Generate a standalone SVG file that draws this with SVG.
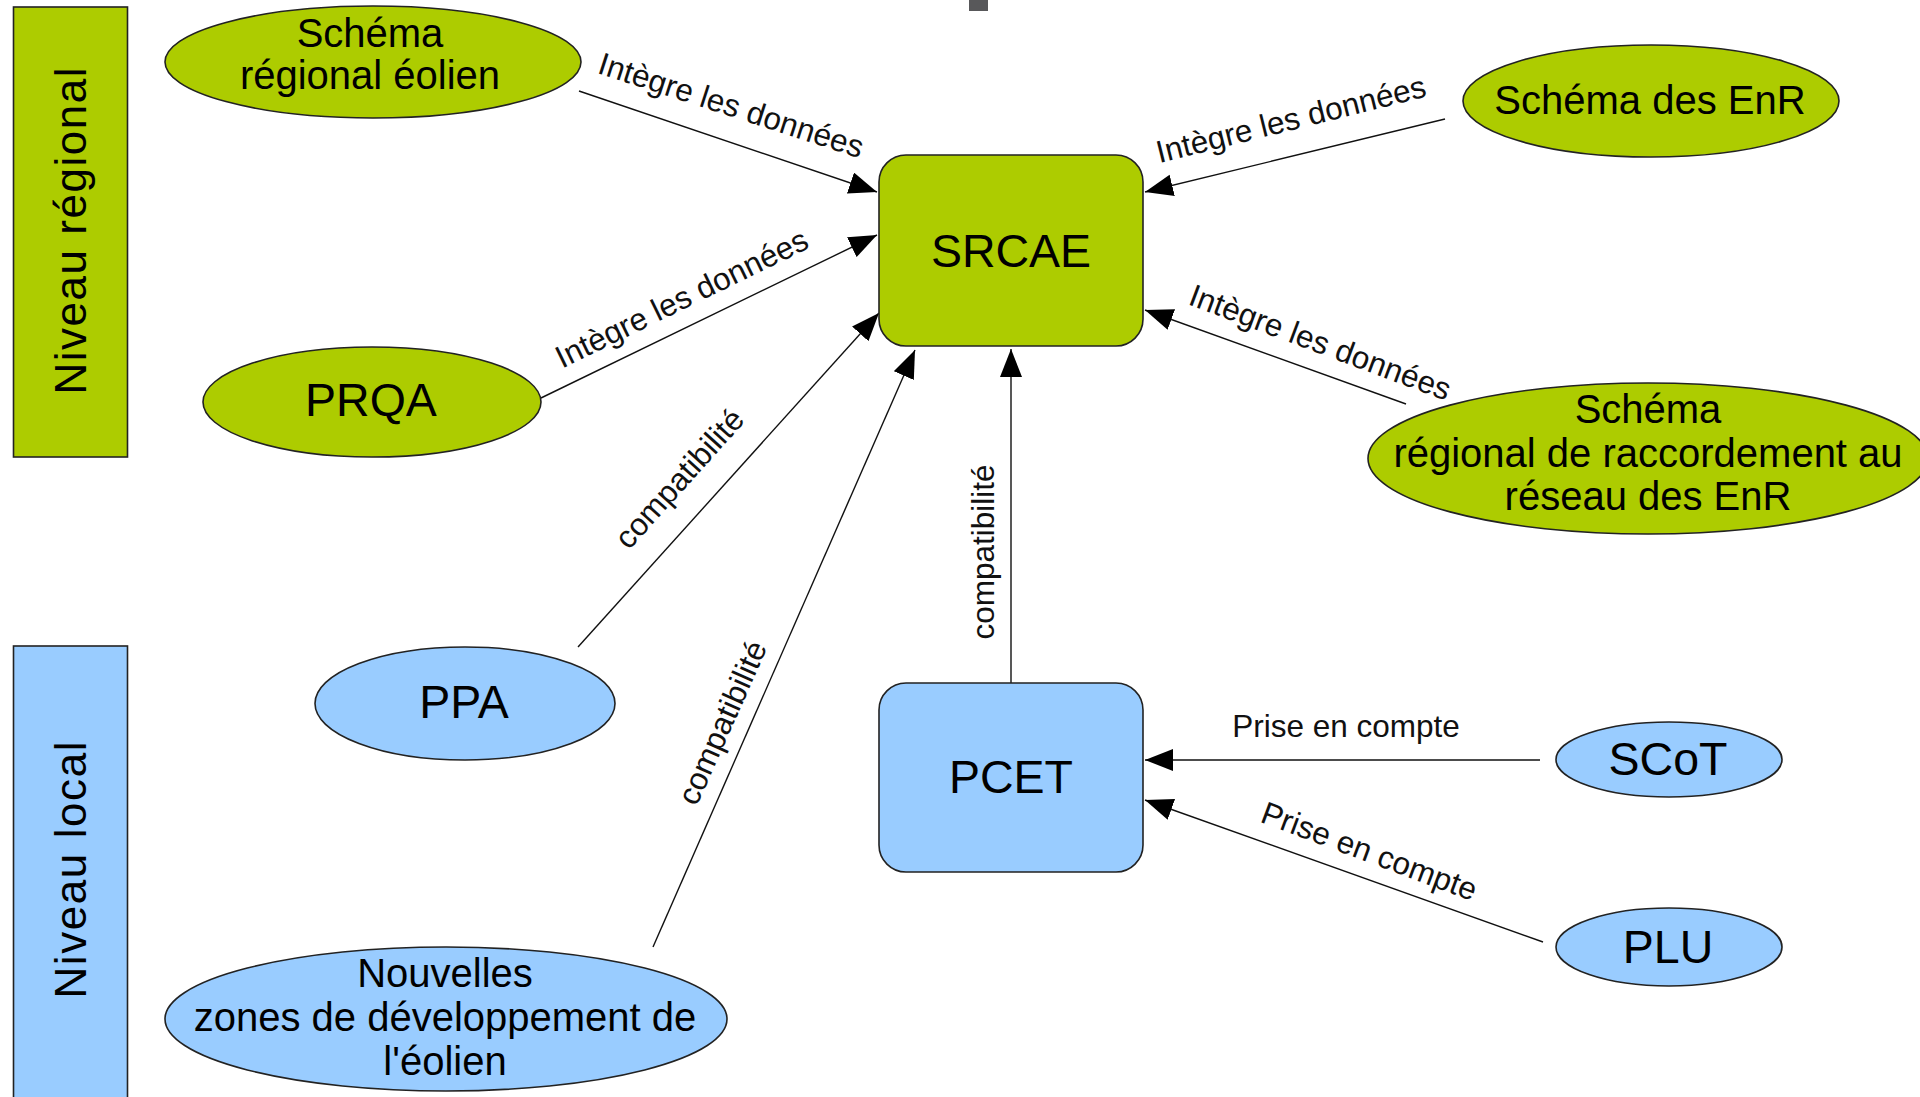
<svg xmlns="http://www.w3.org/2000/svg" width="1920" height="1097" viewBox="0 0 1920 1097">
<style>
text{font-family:"Liberation Sans",Arial,sans-serif;fill:#000}
.g{fill:#adcc00;stroke:#222;stroke-width:1.6}
.b{fill:#99ccff;stroke:#222;stroke-width:1.6}
.node{font-size:46.5px;text-anchor:middle}
.ml{font-size:40px;text-anchor:middle}
.lbl{font-size:31.5px;text-anchor:middle;fill:#111}
.band{font-size:44px;text-anchor:middle}
.edge{stroke:#111;stroke-width:1.4;fill:none;marker-end:url(#arr)}
</style>
<defs>
<marker id="arr" markerUnits="userSpaceOnUse" markerWidth="30" markerHeight="24" refX="28" refY="11" orient="auto">
<path d="M0,0 L28,11 L0,22 z" fill="#000"/>
</marker>
</defs>
<rect width="1920" height="1097" fill="#fff"/>
<rect x="969" y="0" width="19" height="11" fill="#58585a"/>

<g id="band-regional">
<rect x="13.5" y="7" width="114" height="450" class="g"/>
<text class="band" transform="translate(86,231) rotate(-90)" textLength="327" lengthAdjust="spacing">Niveau régional</text>
</g>
<g id="band-local">
<rect x="13.5" y="646" width="114" height="460" class="b"/>
<text class="band" transform="translate(86,870) rotate(-90)" textLength="257" lengthAdjust="spacing">Niveau local</text>
</g>

<g id="connectors">
<line class="edge" x1="579" y1="91" x2="877" y2="192"/>
<line class="edge" x1="541" y1="398" x2="877" y2="235"/>
<line class="edge" x1="578" y1="647" x2="879" y2="313"/>
<line class="edge" x1="653" y1="947" x2="915" y2="350"/>
<line class="edge" x1="1011" y1="683" x2="1011" y2="349"/>
<line class="edge" x1="1445" y1="119" x2="1145" y2="192"/>
<line class="edge" x1="1406" y1="404" x2="1145" y2="310"/>
<line class="edge" x1="1540" y1="760" x2="1145" y2="760"/>
<line class="edge" x1="1543" y1="942" x2="1145" y2="800"/>
<text class="lbl" transform="translate(731,106) rotate(18)" y="10">Intègre les données</text>
<text class="lbl" transform="translate(682,299) rotate(-26)" y="10">Intègre les données</text>
<text class="lbl" transform="translate(680,479) rotate(-48)" y="10">compatibilité</text>
<text class="lbl" transform="translate(723,723) rotate(-66)" y="10">compatibilité</text>
<text class="lbl" transform="translate(984,552) rotate(-90)" y="10">compatibilité</text>
<text class="lbl" transform="translate(1291,120) rotate(-14)" y="10">Intègre les données</text>
<text class="lbl" transform="translate(1320,343) rotate(20.5)" y="10">Intègre les données</text>
<text class="lbl" x="1346" y="737">Prise en compte</text>
<text class="lbl" transform="translate(1369,852) rotate(20.5)" y="10">Prise en compte</text>
</g>

<g id="srcae">
<rect x="879" y="155" width="264" height="191" rx="27" class="g"/>
<text class="node" x="1011" y="267">SRCAE</text>
</g>
<g id="pcet">
<rect x="879" y="683" width="264" height="189" rx="27" class="b"/>
<text class="node" x="1011" y="793">PCET</text>
</g>
<g id="schema-eolien">
<ellipse cx="373" cy="62" rx="208" ry="56" class="g"/>
<text class="ml" x="370" y="47">Schéma</text>
<text class="ml" x="370" y="89">régional éolien</text>
</g>
<g id="prqa">
<ellipse cx="372" cy="402" rx="169" ry="55" class="g"/>
<text class="node" x="371" y="416">PRQA</text>
</g>
<g id="schema-enr">
<ellipse cx="1651" cy="101" rx="188" ry="56" class="g"/>
<text class="ml" x="1650" y="114">Schéma des EnR</text>
</g>
<g id="schema-raccordement">
<ellipse cx="1648" cy="458.5" rx="280" ry="75.5" class="g"/>
<text class="ml" x="1648" y="423">Schéma</text>
<text class="ml" x="1648" y="467">régional de raccordement au</text>
<text class="ml" x="1648" y="510">réseau des EnR</text>
</g>
<g id="ppa">
<ellipse cx="465" cy="703.5" rx="150" ry="56.5" class="b"/>
<text class="node" x="464" y="718">PPA</text>
</g>
<g id="nouvelles-zones">
<ellipse cx="446" cy="1019" rx="281" ry="72" class="b"/>
<text class="ml" x="445" y="987">Nouvelles</text>
<text class="ml" x="445" y="1031">zones de développement de</text>
<text class="ml" x="445" y="1075">l'éolien</text>
</g>
<g id="scot">
<ellipse cx="1669" cy="759.5" rx="113" ry="37.5" class="b"/>
<text class="node" x="1668" y="775">SCoT</text>
</g>
<g id="plu">
<ellipse cx="1669" cy="947" rx="113" ry="39" class="b"/>
<text class="node" x="1668" y="963">PLU</text>
</g>
</svg>
